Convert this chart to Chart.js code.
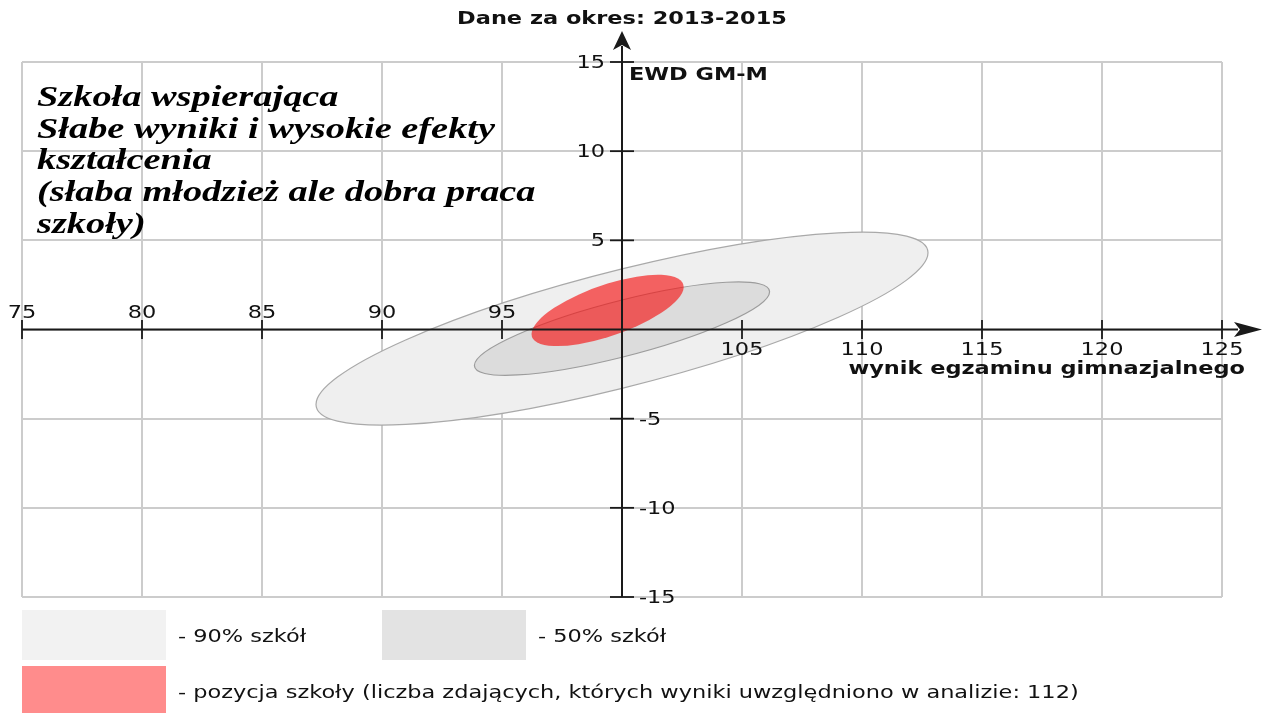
<!DOCTYPE html>
<html>
<head>
<meta charset="utf-8">
<script src="https://cdn.jsdelivr.net/npm/chart.js@4/dist/chart.umd.min.js"></script>
<style>
  html, body { margin: 0; padding: 0; background: #ffffff; }
  #wrap { width: 1266px; height: 713px; }
</style>
</head>
<body>
<div id="wrap"><canvas id="c" width="1266" height="713"></canvas></div>
<script>
// ---- data ----
const xTicks = [75, 80, 85, 90, 95, 100, 105, 110, 115, 120, 125];
const yTicks = [-15, -10, -5, 0, 5, 10, 15];
const originX = 100;
const originY = 0;

const seriesLabels = ['90% szkół', '50% szkół', 'pozycja szkoły'];
const centerX = [100.0, 100.0, 99.4];
const centerY = [0.05, 0.05, 1.07];
const halfRangeX = [12.75, 6.15, 3.17];   // max horizontal reach from centre
const yAtMaxX = [4.25, 2.07, 1.32];       // vertical offset at the horizontal extreme
const halfRangeY = [5.41, 2.62, 2.0];     // max vertical reach from centre

const legendLabels = [
  '- 90% szkół',
  '- 50% szkół',
  '- pozycja szkoły (liczba zdających, których wyniki uwzględniono w analizie: 112)'
];
const titleText = 'Dane za okres: 2013-2015';
const yAxisTitle = 'EWD GM-M';
const xAxisTitle = 'wynik egzaminu gimnazjalnego';
const noteLines = [
  'Szkoła wspierająca',
  'Słabe wyniki i wysokie efekty',
  'kształcenia',
  '(słaba młodzież ale dobra praca',
  'szkoły)'
];

// ---- styles ----
const ellipseFill = ['#efefef', '#dcdcdc', 'rgba(245, 20, 20, 0.65)'];
const ellipseStroke = ['#a9a9a9', '#9c9c9c', null];
const legendFill = ['#f2f2f2', '#e3e3e3', '#ff8c8c'];
const SANS = "'DejaVu Sans', sans-serif";
const SERIF = "'Liberation Serif', 'DejaVu Serif', serif";
const SX = 1.32;

function txt(ctx, s, x, y, font, align, baseline, sx, color) {
  ctx.save();
  ctx.font = font;
  ctx.textAlign = align;
  ctx.textBaseline = baseline;
  ctx.fillStyle = color || '#111111';
  ctx.translate(x, y);
  ctx.scale(sx, 1);
  ctx.fillText(s, 0, 0);
  ctx.restore();
}

const ellipsePlugin = {
  id: 'ellipses',
  beforeDatasetsDraw(chart) {
    const ctx = chart.ctx;
    const xs = chart.scales.x, ys = chart.scales.y;
    const kx = xs.getPixelForValue(1) - xs.getPixelForValue(0);
    const ky = ys.getPixelForValue(1) - ys.getPixelForValue(0);
    for (let i = 0; i < centerX.length; i++) {
      const a = halfRangeX[i];
      const b = yAtMaxX[i];
      const d = Math.sqrt(Math.max(halfRangeY[i] * halfRangeY[i] - b * b, 0.0001));
      const px = xs.getPixelForValue(centerX[i]);
      const py = ys.getPixelForValue(centerY[i]);
      ctx.save();
      ctx.beginPath();
      ctx.transform(a * kx, b * ky, 0, d * ky, px, py);
      ctx.arc(0, 0, 1, 0, Math.PI * 2);
      ctx.restore();
      ctx.save();
      ctx.fillStyle = ellipseFill[i];
      ctx.fill();
      if (ellipseStroke[i]) {
        ctx.strokeStyle = ellipseStroke[i];
        ctx.lineWidth = 1.2;
        ctx.stroke();
      }
      ctx.restore();
    }
  },
  afterDatasetsDraw(chart) {
    const ctx = chart.ctx;
    const xs = chart.scales.x, ys = chart.scales.y;
    const ca = chart.chartArea;
    const y0 = ys.getPixelForValue(originY);
    const x0 = xs.getPixelForValue(originX);
    const axisColor = '#1a1a1a';

    ctx.save();
    ctx.strokeStyle = axisColor;
    ctx.fillStyle = axisColor;
    ctx.lineWidth = 2;
    // x axis line
    const xTip = ca.right + 40;
    ctx.beginPath();
    ctx.moveTo(ca.left, y0);
    ctx.lineTo(xTip - 24, y0);
    ctx.stroke();
    ctx.beginPath();
    ctx.moveTo(xTip, y0);
    ctx.lineTo(xTip - 28, y0 - 7.5);
    ctx.lineTo(xTip - 22, y0);
    ctx.lineTo(xTip - 28, y0 + 7.5);
    ctx.closePath();
    ctx.fill();
    // y axis line
    const yTip = ca.top - 31;
    ctx.beginPath();
    ctx.moveTo(x0, ca.bottom);
    ctx.lineTo(x0, yTip + 15);
    ctx.stroke();
    ctx.beginPath();
    ctx.moveTo(x0, yTip);
    ctx.lineTo(x0 - 9, yTip + 19);
    ctx.lineTo(x0, yTip + 14);
    ctx.lineTo(x0 + 9, yTip + 19);
    ctx.closePath();
    ctx.fill();

    // ticks
    ctx.lineWidth = 1.8;
    xTicks.forEach(v => {
      if (v === originX) return;
      const px = xs.getPixelForValue(v);
      ctx.beginPath();
      ctx.moveTo(px, y0 - 9.5);
      ctx.lineTo(px, y0 + 9.5);
      ctx.stroke();
    });
    yTicks.forEach(v => {
      if (v === originY) return;
      const py = ys.getPixelForValue(v);
      ctx.beginPath();
      ctx.moveTo(x0 - 12, py);
      ctx.lineTo(x0 + 12, py);
      ctx.stroke();
    });
    ctx.restore();

    const tickFont = '17px ' + SANS;
    xTicks.forEach(v => {
      if (v === originX) return;
      const px = xs.getPixelForValue(v);
      if (v < originX) txt(ctx, String(v), px, y0 - 12, tickFont, 'center', 'alphabetic', SX);
      else txt(ctx, String(v), px, y0 + 25, tickFont, 'center', 'alphabetic', SX);
    });
    yTicks.forEach(v => {
      if (v === originY) return;
      const py = ys.getPixelForValue(v);
      if (v > originY) txt(ctx, String(v), x0 - 17, py + 6, tickFont, 'right', 'alphabetic', SX);
      else txt(ctx, String(v), x0 + 17, py + 6, tickFont, 'left', 'alphabetic', SX);
    });

    // titles
    txt(ctx, titleText, x0, 24, 'bold 17px ' + SANS, 'center', 'alphabetic', SX);
    txt(ctx, yAxisTitle, x0 + 7, ca.top + 18, 'bold 17px ' + SANS, 'left', 'alphabetic', SX);
    txt(ctx, xAxisTitle, ca.right + 23, y0 + 44, 'bold 17px ' + SANS, 'right', 'alphabetic', SX);

    // note
    noteLines.forEach((s, i) => {
      txt(ctx, s, 37, 106 + i * 31.7, 'bold italic 29.5px ' + SERIF, 'left', 'alphabetic', 1.30, '#000000');
    });

    // legend
    const boxW = 144, boxH = 50;
    const legendPos = [[ca.left, 610], [ca.left + 360, 610], [ca.left, 666]];
    legendPos.forEach((p, i) => {
      ctx.fillStyle = legendFill[i];
      ctx.fillRect(p[0], p[1], boxW, boxH);
      txt(ctx, legendLabels[i], p[0] + boxW + 12, p[1] + 32, '17px ' + SANS, 'left', 'alphabetic', SX, '#111111');
    });
  }
};

new Chart(document.getElementById('c'), {
  type: 'scatter',
  data: {
    datasets: seriesLabels.map((lab, i) => ({
      label: lab,
      data: [{ x: centerX[i], y: centerY[i] }],
      pointRadius: 0,
      backgroundColor: legendFill[i]
    }))
  },
  options: {
    responsive: false,
    animation: false,
    layout: { padding: { left: 22, right: 44, top: 62, bottom: 116 } },
    plugins: { legend: { display: false }, tooltip: { enabled: false }, title: { display: false } },
    scales: {
      x: {
        type: 'linear', min: 75, max: 125,
        ticks: { display: false, stepSize: 5 },
        grid: { color: '#cccccc', lineWidth: 2, drawTicks: false },
        border: { display: false }
      },
      y: {
        type: 'linear', min: -15, max: 15,
        ticks: { display: false, stepSize: 5 },
        grid: { color: '#cccccc', lineWidth: 2, drawTicks: false },
        border: { display: false }
      }
    }
  },
  plugins: [ellipsePlugin]
});
</script>
</body>
</html>
